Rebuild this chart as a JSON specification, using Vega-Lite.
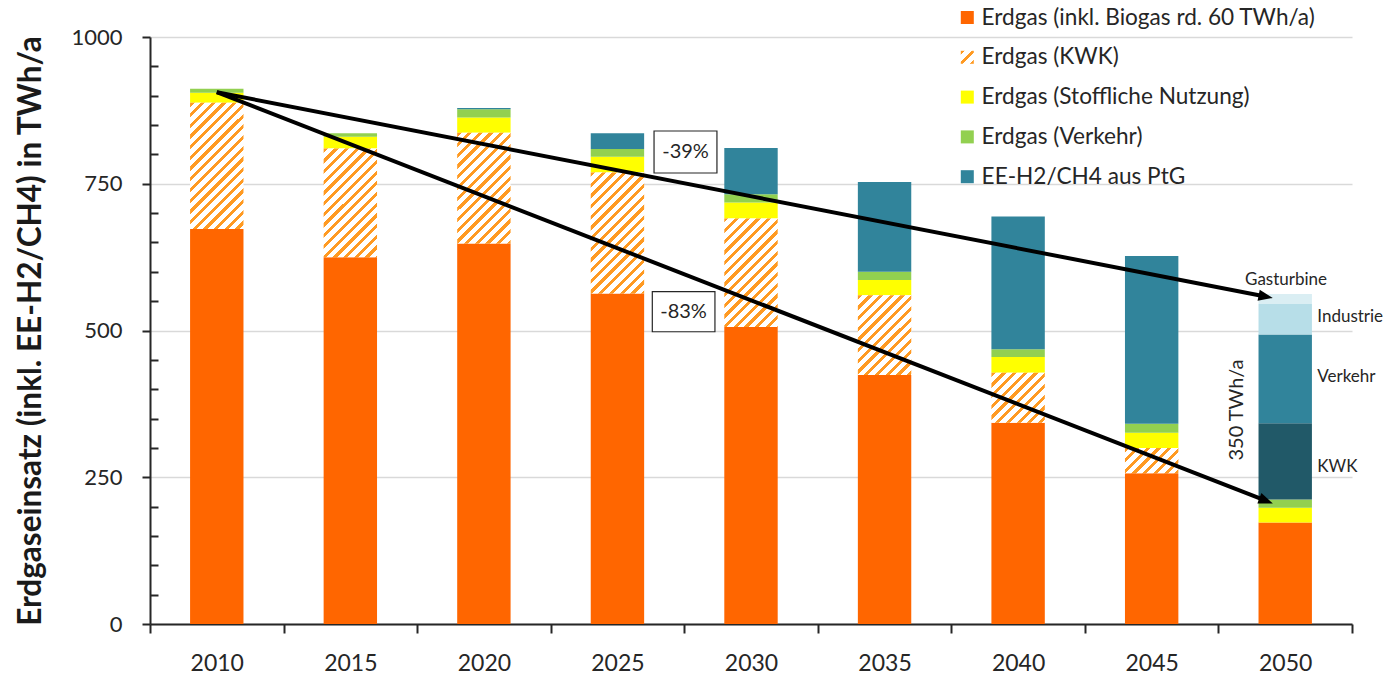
{
  "$schema": "https://vega.github.io/schema/vega-lite/v6.json",
  "width": 1202,
  "height": 587,
  "autosize": {"type": "none"},
  "padding": {"left": 150, "top": 37, "right": 45, "bottom": 51},
  "config": {
    "font": "Lato",
    "view": {"stroke": null},
    "background": "white"
  },
  "params": [
    {"name": "hatchStops", "value": [
      {"offset": 0, "color": "#FF9A22"}, {"offset": 0.02353, "color": "#FF9A22"}, {"offset": 0.02353, "color": "#FFFFFF"}, {"offset": 0.05882, "color": "#FFFFFF"},
      {"offset": 0.05882, "color": "#FF9A22"}, {"offset": 0.08235, "color": "#FF9A22"}, {"offset": 0.08235, "color": "#FFFFFF"}, {"offset": 0.11765, "color": "#FFFFFF"},
      {"offset": 0.11765, "color": "#FF9A22"}, {"offset": 0.14118, "color": "#FF9A22"}, {"offset": 0.14118, "color": "#FFFFFF"}, {"offset": 0.17647, "color": "#FFFFFF"},
      {"offset": 0.17647, "color": "#FF9A22"}, {"offset": 0.2, "color": "#FF9A22"}, {"offset": 0.2, "color": "#FFFFFF"}, {"offset": 0.23529, "color": "#FFFFFF"},
      {"offset": 0.23529, "color": "#FF9A22"}, {"offset": 0.25882, "color": "#FF9A22"}, {"offset": 0.25882, "color": "#FFFFFF"}, {"offset": 0.29412, "color": "#FFFFFF"},
      {"offset": 0.29412, "color": "#FF9A22"}, {"offset": 0.31765, "color": "#FF9A22"}, {"offset": 0.31765, "color": "#FFFFFF"}, {"offset": 0.35294, "color": "#FFFFFF"},
      {"offset": 0.35294, "color": "#FF9A22"}, {"offset": 0.37647, "color": "#FF9A22"}, {"offset": 0.37647, "color": "#FFFFFF"}, {"offset": 0.41176, "color": "#FFFFFF"},
      {"offset": 0.41176, "color": "#FF9A22"}, {"offset": 0.43529, "color": "#FF9A22"}, {"offset": 0.43529, "color": "#FFFFFF"}, {"offset": 0.47059, "color": "#FFFFFF"},
      {"offset": 0.47059, "color": "#FF9A22"}, {"offset": 0.49412, "color": "#FF9A22"}, {"offset": 0.49412, "color": "#FFFFFF"}, {"offset": 0.52941, "color": "#FFFFFF"},
      {"offset": 0.52941, "color": "#FF9A22"}, {"offset": 0.55294, "color": "#FF9A22"}, {"offset": 0.55294, "color": "#FFFFFF"}, {"offset": 0.58824, "color": "#FFFFFF"},
      {"offset": 0.58824, "color": "#FF9A22"}, {"offset": 0.61176, "color": "#FF9A22"}, {"offset": 0.61176, "color": "#FFFFFF"}, {"offset": 0.64706, "color": "#FFFFFF"},
      {"offset": 0.64706, "color": "#FF9A22"}, {"offset": 0.67059, "color": "#FF9A22"}, {"offset": 0.67059, "color": "#FFFFFF"}, {"offset": 0.70588, "color": "#FFFFFF"},
      {"offset": 0.70588, "color": "#FF9A22"}, {"offset": 0.72941, "color": "#FF9A22"}, {"offset": 0.72941, "color": "#FFFFFF"}, {"offset": 0.76471, "color": "#FFFFFF"},
      {"offset": 0.76471, "color": "#FF9A22"}, {"offset": 0.78824, "color": "#FF9A22"}, {"offset": 0.78824, "color": "#FFFFFF"}, {"offset": 0.82353, "color": "#FFFFFF"},
      {"offset": 0.82353, "color": "#FF9A22"}, {"offset": 0.84706, "color": "#FF9A22"}, {"offset": 0.84706, "color": "#FFFFFF"}, {"offset": 0.88235, "color": "#FFFFFF"},
      {"offset": 0.88235, "color": "#FF9A22"}, {"offset": 0.90588, "color": "#FF9A22"}, {"offset": 0.90588, "color": "#FFFFFF"}, {"offset": 0.94118, "color": "#FFFFFF"},
      {"offset": 0.94118, "color": "#FF9A22"}, {"offset": 0.96471, "color": "#FF9A22"}, {"offset": 0.96471, "color": "#FFFFFF"}, {"offset": 1, "color": "#FFFFFF"}
    ]},
    {"name": "legendHatch", "expr": "{gradient: 'linear', x1: 0, y1: 0, x2: 7, y2: 7, stops: hatchStops}"}
  ],
  "layer": [
    {
      "data": {"values": [
        {"year": 2010, "cat": "Erdgas (inkl. Biogas rd. 60 TWh/a)", "order": 1, "value": 673},
        {"year": 2010, "cat": "Erdgas (KWK)", "order": 2, "value": 215},
        {"year": 2010, "cat": "Erdgas (Stoffliche Nutzung)", "order": 3, "value": 17},
        {"year": 2010, "cat": "Erdgas (Verkehr)", "order": 4, "value": 7},
        {"year": 2015, "cat": "Erdgas (inkl. Biogas rd. 60 TWh/a)", "order": 1, "value": 625},
        {"year": 2015, "cat": "Erdgas (KWK)", "order": 2, "value": 185},
        {"year": 2015, "cat": "Erdgas (Stoffliche Nutzung)", "order": 3, "value": 20},
        {"year": 2015, "cat": "Erdgas (Verkehr)", "order": 4, "value": 6},
        {"year": 2020, "cat": "Erdgas (inkl. Biogas rd. 60 TWh/a)", "order": 1, "value": 648},
        {"year": 2020, "cat": "Erdgas (KWK)", "order": 2, "value": 189},
        {"year": 2020, "cat": "Erdgas (Stoffliche Nutzung)", "order": 3, "value": 26},
        {"year": 2020, "cat": "Erdgas (Verkehr)", "order": 4, "value": 14},
        {"year": 2020, "cat": "EE-H2/CH4 aus PtG", "order": 5, "value": 2},
        {"year": 2025, "cat": "Erdgas (inkl. Biogas rd. 60 TWh/a)", "order": 1, "value": 563},
        {"year": 2025, "cat": "Erdgas (KWK)", "order": 2, "value": 206},
        {"year": 2025, "cat": "Erdgas (Stoffliche Nutzung)", "order": 3, "value": 27},
        {"year": 2025, "cat": "Erdgas (Verkehr)", "order": 4, "value": 13},
        {"year": 2025, "cat": "EE-H2/CH4 aus PtG", "order": 5, "value": 27},
        {"year": 2030, "cat": "Erdgas (inkl. Biogas rd. 60 TWh/a)", "order": 1, "value": 506},
        {"year": 2030, "cat": "Erdgas (KWK)", "order": 2, "value": 185},
        {"year": 2030, "cat": "Erdgas (Stoffliche Nutzung)", "order": 3, "value": 27},
        {"year": 2030, "cat": "Erdgas (Verkehr)", "order": 4, "value": 14},
        {"year": 2030, "cat": "EE-H2/CH4 aus PtG", "order": 5, "value": 79},
        {"year": 2035, "cat": "Erdgas (inkl. Biogas rd. 60 TWh/a)", "order": 1, "value": 424},
        {"year": 2035, "cat": "Erdgas (KWK)", "order": 2, "value": 136},
        {"year": 2035, "cat": "Erdgas (Stoffliche Nutzung)", "order": 3, "value": 26},
        {"year": 2035, "cat": "Erdgas (Verkehr)", "order": 4, "value": 14},
        {"year": 2035, "cat": "EE-H2/CH4 aus PtG", "order": 5, "value": 153},
        {"year": 2040, "cat": "Erdgas (inkl. Biogas rd. 60 TWh/a)", "order": 1, "value": 343},
        {"year": 2040, "cat": "Erdgas (KWK)", "order": 2, "value": 85},
        {"year": 2040, "cat": "Erdgas (Stoffliche Nutzung)", "order": 3, "value": 27},
        {"year": 2040, "cat": "Erdgas (Verkehr)", "order": 4, "value": 13},
        {"year": 2040, "cat": "EE-H2/CH4 aus PtG", "order": 5, "value": 226},
        {"year": 2045, "cat": "Erdgas (inkl. Biogas rd. 60 TWh/a)", "order": 1, "value": 257},
        {"year": 2045, "cat": "Erdgas (KWK)", "order": 2, "value": 43},
        {"year": 2045, "cat": "Erdgas (Stoffliche Nutzung)", "order": 3, "value": 26},
        {"year": 2045, "cat": "Erdgas (Verkehr)", "order": 4, "value": 15},
        {"year": 2045, "cat": "EE-H2/CH4 aus PtG", "order": 5, "value": 286},
        {"year": 2050, "cat": "Erdgas (inkl. Biogas rd. 60 TWh/a)", "order": 1, "value": 173},
        {"year": 2050, "cat": "Erdgas (Stoffliche Nutzung)", "order": 3, "value": 25},
        {"year": 2050, "cat": "Erdgas (Verkehr)", "order": 4, "value": 14},
        {"year": 2050, "cat": "PtG KWK", "order": 5, "value": 130},
        {"year": 2050, "cat": "PtG Verkehr", "order": 6, "value": 151},
        {"year": 2050, "cat": "PtG Industrie", "order": 7, "value": 52},
        {"year": 2050, "cat": "PtG Gasturbine", "order": 8, "value": 17}
      ]},
      "transform": [
        {"stack": "value", "groupby": ["year"], "sort": [{"field": "order", "order": "ascending"}], "as": ["v0", "v1"]}
      ],
      "layer": [
        {
          "transform": [{"filter": "datum.cat !== 'Erdgas (KWK)'"}],
          "mark": {"type": "bar", "width": 53.4},
          "encoding": {
            "x": {"field": "year", "type": "quantitative",
              "scale": {"domain": [2007.5, 2052.5], "nice": false, "zero": false, "padding": 0},
              "axis": {"title": null, "values": [2007.5, 2010, 2012.5, 2015, 2017.5, 2020, 2022.5, 2025, 2027.5, 2030, 2032.5, 2035, 2037.5, 2040, 2042.5, 2045, 2047.5, 2050, 2052.5],
                "tickCount": 100, "format": "d", "labelExpr": "datum.value % 5 === 0 ? datum.label : ''",
                "labelAngle": 0, "labelFlush": false, "labelOverlap": false, "labelBaseline": "middle",
                "tickSize": {"condition": {"test": "datum.value % 5 === 0", "value": 0}, "value": 9},
                "tickWidth": 2, "tickColor": "#262626",
                "domainColor": "#262626", "domainWidth": 2, "labelFontSize": 23, "labelColor": "#262626", "labelPadding": 39, "grid": false}},
            "y": {"field": "v1", "type": "quantitative",
              "scale": {"domain": [0, 1000], "nice": false},
              "axis": {"values": [0, 50, 100, 150, 200, 250, 300, 350, 400, 450, 500, 550, 600, 650, 700, 750, 800, 850, 900, 950, 1000],
                "tickCount": 100, "format": "d",
                "labelExpr": "datum.value % 250 === 0 ? datum.label : ''", "labelOverlap": false,
                "title": "Erdgaseinsatz (inkl. EE-H2/CH4) in TWh/a",
                "titleFontSize": 31.5, "titleFontWeight": "bold", "titleColor": "#1a1a1a", "titleAngle": -90,
                "titleX": -119, "titleY": 293.5, "titleAlign": "center", "titleBaseline": "middle",
                "labelFontSize": 22, "labelColor": "#262626", "labelPadding": 20,
                "tickSize": {"condition": {"test": "datum.value % 250 === 0", "value": 8}, "value": -8},
                "tickWidth": 2, "tickColor": "#262626",
                "domainColor": "#262626", "domainWidth": 2,
                "grid": true, "gridColor": "#D9D9D9", "gridWidth": 1.5,
                "gridOpacity": {"condition": {"test": "datum.value % 250 === 0", "value": 1}, "value": 0}}},
            "y2": {"field": "v0"},
            "color": {"field": "cat", "type": "nominal",
              "scale": {
                "domain": ["Erdgas (inkl. Biogas rd. 60 TWh/a)", "Erdgas (KWK)", "Erdgas (Stoffliche Nutzung)", "Erdgas (Verkehr)", "EE-H2/CH4 aus PtG", "PtG KWK", "PtG Verkehr", "PtG Industrie", "PtG Gasturbine"],
                "range": ["#FF6600", {"expr": "legendHatch"}, "#FFFF00", "#92D050", "#31849B", "#215968", "#31849B", "#B7DEE8", "#DAEEF3"]
              },
              "legend": {
                "values": ["Erdgas (inkl. Biogas rd. 60 TWh/a)", "Erdgas (KWK)", "Erdgas (Stoffliche Nutzung)", "Erdgas (Verkehr)", "EE-H2/CH4 aus PtG"],
                "title": null, "orient": "none", "legendX": 806, "legendY": -30.8, "direction": "vertical",
                "symbolType": "square", "symbolSize": 169, "symbolStrokeWidth": 0,
                "labelFontSize": 22.6, "labelColor": "#262626", "labelOffset": 3, "rowPadding": 16.8, "padding": 0, "labelLimit": 600
              }}
          }
        },
        {
          "transform": [{"filter": "datum.cat === 'Erdgas (KWK)' && datum.year === 2010"}],
          "mark": {"type": "bar", "width": 53.4, "fill": {"expr": "{gradient: 'linear', x1: 0, y1: 0, x2: 0.5166, y2: 1.2217, stops: hatchStops}"}},
          "encoding": {
            "x": {"field": "year", "type": "quantitative"},
            "y": {"field": "v1", "type": "quantitative"},
            "y2": {"field": "v0"}
          }
        },
        {
          "transform": [{"filter": "datum.cat === 'Erdgas (KWK)' && (datum.year === 2015 || datum.year === 2030)"}],
          "mark": {"type": "bar", "width": 53.4, "fill": {"expr": "{gradient: 'linear', x1: 0, y1: 0, x2: 0.6622, y2: 1.3479, stops: hatchStops}"}},
          "encoding": {
            "x": {"field": "year", "type": "quantitative"},
            "y": {"field": "v1", "type": "quantitative"},
            "y2": {"field": "v0"}
          }
        },
        {
          "transform": [{"filter": "datum.cat === 'Erdgas (KWK)' && datum.year === 2020"}],
          "mark": {"type": "bar", "width": 53.4, "fill": {"expr": "{gradient: 'linear', x1: 0, y1: 0, x2: 0.6401, y2: 1.3306, stops: hatchStops}"}},
          "encoding": {
            "x": {"field": "year", "type": "quantitative"},
            "y": {"field": "v1", "type": "quantitative"},
            "y2": {"field": "v0"}
          }
        },
        {
          "transform": [{"filter": "datum.cat === 'Erdgas (KWK)' && datum.year === 2025"}],
          "mark": {"type": "bar", "width": 53.4, "fill": {"expr": "{gradient: 'linear', x1: 0, y1: 0, x2: 0.5552, y2: 1.2581, stops: hatchStops}"}},
          "encoding": {
            "x": {"field": "year", "type": "quantitative"},
            "y": {"field": "v1", "type": "quantitative"},
            "y2": {"field": "v0"}
          }
        },
        {
          "transform": [{"filter": "datum.cat === 'Erdgas (KWK)' && datum.year === 2035"}],
          "mark": {"type": "bar", "width": 53.4, "fill": {"expr": "{gradient: 'linear', x1: 0, y1: 0, x2: 1.052, y2: 1.5735, stops: hatchStops}"}},
          "encoding": {
            "x": {"field": "year", "type": "quantitative"},
            "y": {"field": "v1", "type": "quantitative"},
            "y2": {"field": "v0"}
          }
        },
        {
          "transform": [{"filter": "datum.cat === 'Erdgas (KWK)' && datum.year === 2040"}],
          "mark": {"type": "bar", "width": 53.4, "fill": {"expr": "{gradient: 'linear', x1: 0, y1: 0, x2: 1.8171, y2: 1.6986, stops: hatchStops}"}},
          "encoding": {
            "x": {"field": "year", "type": "quantitative"},
            "y": {"field": "v1", "type": "quantitative"},
            "y2": {"field": "v0"}
          }
        },
        {
          "transform": [{"filter": "datum.cat === 'Erdgas (KWK)' && datum.year === 2045"}],
          "mark": {"type": "bar", "width": 53.4, "fill": {"expr": "{gradient: 'linear', x1: 0, y1: 0, x2: 2.7822, y2: 1.3156, stops: hatchStops}"}},
          "encoding": {
            "x": {"field": "year", "type": "quantitative"},
            "y": {"field": "v1", "type": "quantitative"},
            "y2": {"field": "v0"}
          }
        }
      ]
    },
    {
      "data": {"values": [
        {"arrow": "a", "x1": 2010, "y1": 906, "x2": 2049.255, "y2": 557.9},
        {"arrow": "b", "x1": 2010, "y1": 906, "x2": 2049.27, "y2": 210.1}
      ]},
      "mark": {"type": "rule", "strokeWidth": 4, "color": "#000000", "strokeCap": "butt"},
      "encoding": {
        "x": {"field": "x1", "type": "quantitative"},
        "x2": {"field": "x2"},
        "y": {"field": "y1", "type": "quantitative"},
        "y2": {"field": "y2"}
      }
    },
    {
      "data": {"values": [
        {"arrow": "a", "x2": 2049.255, "y2": 557.9}
      ]},
      "mark": {"type": "point", "filled": true, "color": "#000000", "opacity": 1, "shape": "M1.9,0L-1.7,-1.4L-1.7,1.4Z", "size": 64, "angle": 11.1},
      "encoding": {
        "x": {"field": "x2", "type": "quantitative"},
        "y": {"field": "y2", "type": "quantitative"}
      }
    },
    {
      "data": {"values": [
        {"arrow": "b", "x2": 2049.27, "y2": 210.1}
      ]},
      "mark": {"type": "point", "filled": true, "color": "#000000", "opacity": 1, "shape": "M1.9,0L-1.7,-1.4L-1.7,1.4Z", "size": 64, "angle": 21.35},
      "encoding": {
        "x": {"field": "x2", "type": "quantitative"},
        "y": {"field": "y2", "type": "quantitative"}
      }
    },
    {
      "data": {"values": [
        {"label": "-39%", "bx1": 2026.37, "bx2": 2028.725, "by1": 839.9, "by2": 768.3},
        {"label": "-83%", "bx1": 2026.305, "bx2": 2028.65, "by1": 566.1, "by2": 497.9}
      ]},
      "mark": {"type": "rect", "fill": "#FFFFFF", "stroke": "#262626", "strokeWidth": 1.2},
      "encoding": {
        "x": {"field": "bx1", "type": "quantitative"},
        "x2": {"field": "bx2"},
        "y": {"field": "by1", "type": "quantitative"},
        "y2": {"field": "by2"}
      }
    },
    {
      "data": {"values": [
        {"label": "-39%", "tx": 2027.55, "ty": 804},
        {"label": "-83%", "tx": 2027.475, "ty": 532}
      ]},
      "mark": {"type": "text", "fontSize": 20, "color": "#262626", "align": "center", "baseline": "middle"},
      "encoding": {
        "x": {"field": "tx", "type": "quantitative"},
        "y": {"field": "ty", "type": "quantitative"},
        "text": {"field": "label"}
      }
    },
    {
      "data": {"values": [
        {"label": "Gasturbine", "tx": 2050.03, "ty": 586}
      ]},
      "mark": {"type": "text", "fontSize": 17, "color": "#262626", "align": "center", "baseline": "middle"},
      "encoding": {
        "x": {"field": "tx", "type": "quantitative"},
        "y": {"field": "ty", "type": "quantitative"},
        "text": {"field": "label"}
      }
    },
    {
      "data": {"values": [
        {"label": "Industrie", "tx": 2051.2, "ty": 523.5},
        {"label": "Verkehr", "tx": 2051.2, "ty": 420.3},
        {"label": "KWK", "tx": 2051.2, "ty": 268}
      ]},
      "mark": {"type": "text", "fontSize": 17, "color": "#262626", "align": "left", "baseline": "middle"},
      "encoding": {
        "x": {"field": "tx", "type": "quantitative"},
        "y": {"field": "ty", "type": "quantitative"},
        "text": {"field": "label"}
      }
    },
    {
      "data": {"values": [
        {"label": "350 TWh/a", "tx": 2048.205, "ty": 364.6}
      ]},
      "mark": {"type": "text", "fontSize": 20, "color": "#262626", "align": "center", "baseline": "middle", "angle": 270},
      "encoding": {
        "x": {"field": "tx", "type": "quantitative"},
        "y": {"field": "ty", "type": "quantitative"},
        "text": {"field": "label"}
      }
    }
  ]
}
